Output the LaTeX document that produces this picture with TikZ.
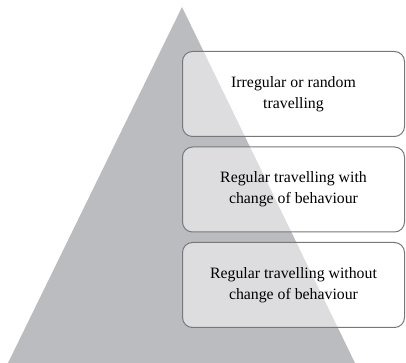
\documentclass[tikz,border=0pt]{standalone}
\usepackage{fontspec}
\setmainfont{Liberation Serif}
\usepackage{tikz}
\usetikzlibrary{positioning}
\definecolor{pyramid}{RGB}{187,188,192}
\definecolor{frame}{RGB}{120,120,122}

\begin{document}
\begin{tikzpicture}[x=1pt, y=1pt, node distance=9.5pt,
		level/.style={draw=frame, line width=1pt, rounded corners=10pt,
			fill=white, fill opacity=0.5, text opacity=1,
			minimum width=222pt, minimum height=85pt, inner sep=0pt,
			align=center, font=\fontsize{15.8}{21}\selectfont}]
				\useasboundingbox (0,0) rectangle (406,363);

				% pyramid
				\fill[color=pyramid] (8,0) -- (182,356) -- (355,0) -- cycle;

				% levels, top to bottom
				\node[level] (random) at (293.5,269) {Irregular or random\\travelling};
				\node[level, below=of random] (change) {Regular travelling with\\change of behaviour};
				\node[level, below=of change] (nochange) {Regular travelling without\\change of behaviour};

			\end{tikzpicture}
\end{document}
